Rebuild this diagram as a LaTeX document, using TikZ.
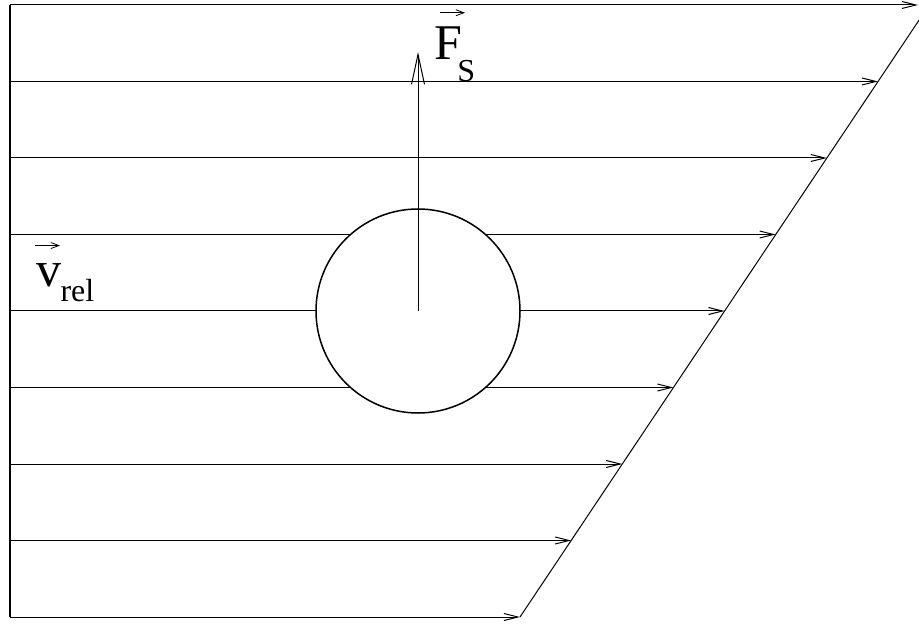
\documentclass[tikz,border=0pt]{standalone}
\usepackage{fontspec}
\setmainfont{Liberation Serif}
\usetikzlibrary{arrows.meta, calc}

\begin{document}
\begin{tikzpicture}[x=0.5pt, y=-0.5pt, line width=0.5pt,
    flow/.style={-{Straight Barb[length=7pt, width=3.5pt]}},
    force/.style={-{Straight Barb[length=15pt, width=6.5pt]}},
    accent/.style={-{Straight Barb[length=4pt, width=3pt]}, line width=0.4pt},
    label/.style={anchor=base west, inner sep=0pt, font=\fontsize{25}{25}\selectfont}]
    \useasboundingbox (0,0) rectangle (919,624);
    \clip (0,0) rectangle (919,624);

    % walls
    \draw[line width=0.7pt] (10,5) -- (10,617);
    \draw (520,617) -- (939.2,-10);

    % flow lines
    \foreach \k in {0,...,8} {
        \pgfmathsetmacro\yy{5+76.5*\k}
        \pgfmathsetmacro\xe{min(918,520+51.14*(8-\k))}
        \draw[flow] (10,\yy) -- (\xe,\yy);
    }

    % sphere and lift force
    \node[draw, circle, fill=white, minimum size=102pt, inner sep=0pt, line width=0.75pt] (ball) at (418,311) {};
    \coordinate (ftip) at (418,52);
    \draw[force] (ball.center) -- (ftip);

    % labels
    \node[label] (fs) at (434,60) {F\kern-2.5pt\raisebox{-11pt}{\fontsize{16}{16}\selectfont S}};
    \draw[accent] ($(fs.north west)+(6,-14)$) -- ++(25,0);
    \node[label] (vrel) at (36,287) {v\kern-0.5pt\raisebox{-7.5pt}{\fontsize{16}{16}\selectfont rel}};
    \draw[accent] ($(vrel.north west)+(-1,-18)$) -- ++(25,0);
\end{tikzpicture}
\end{document}
